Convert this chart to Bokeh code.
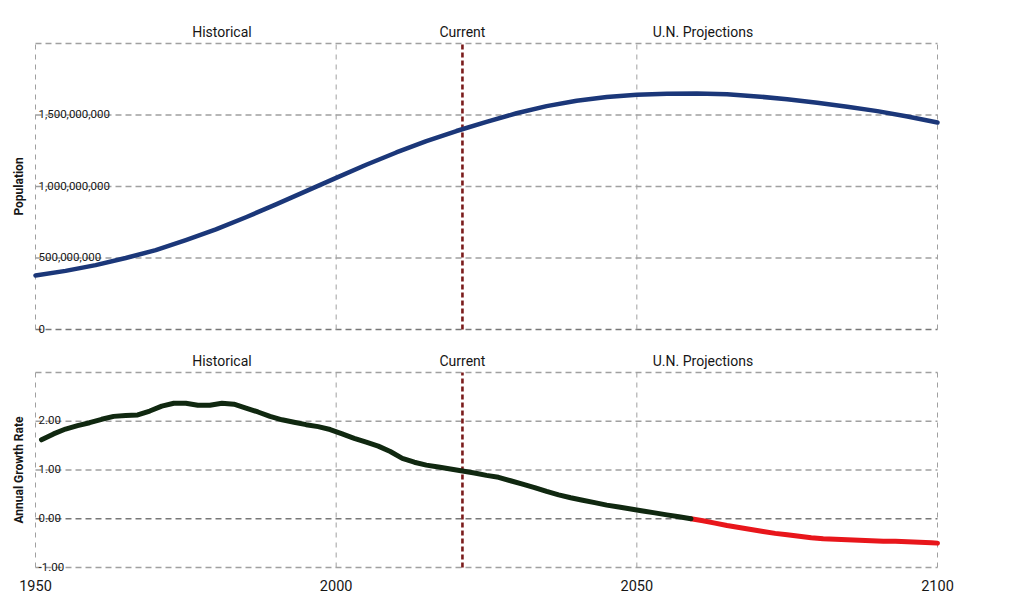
import math
from bokeh.plotting import figure
from bokeh.layouts import column
from bokeh.models import Range1d, FixedTicker
from bokeh.core.properties import value
from bokeh.embed import file_html
from bokeh.resources import INLINE

# ---------------- data ----------------
pop_years = [1950, 1955, 1960, 1965, 1970, 1975, 1980, 1985, 1990, 1995,
             2000, 2005, 2010, 2015, 2020, 2025, 2030, 2035, 2040, 2045,
             2050, 2055, 2060, 2065, 2070, 2075, 2080, 2085, 2090, 2095, 2100]
population = [378e6, 410e6, 450e6, 500e6, 555e6, 625e6, 700e6, 785e6, 875e6, 968e6,
              1060e6, 1152e6, 1238e6, 1318e6, 1388e6, 1452e6, 1512e6, 1562e6, 1600e6, 1626e6,
              1641e6, 1649e6, 1651e6, 1645e6, 1630e6, 1610e6, 1585e6, 1557e6, 1527e6, 1490e6, 1448e6]

rate_years = [1951, 1953, 1955, 1957, 1959, 1961, 1963, 1965, 1967, 1969,
              1971, 1973, 1975, 1977, 1979, 1981, 1983, 1985, 1987, 1989,
              1991, 1993, 1995, 1997, 1999, 2001, 2003, 2005, 2007, 2009,
              2011, 2013, 2015, 2017, 2019, 2021, 2023, 2025, 2027, 2029,
              2031, 2033, 2035, 2037, 2039, 2041, 2043, 2045, 2047, 2049,
              2051, 2053, 2055, 2057, 2059, 2061, 2063, 2065, 2067, 2069,
              2071, 2073, 2075, 2077, 2079, 2081, 2083, 2085, 2087, 2089,
              2091, 2093, 2095, 2097, 2099, 2100]
growth_rate = [1.62, 1.74, 1.84, 1.91, 1.97, 2.04, 2.10, 2.12, 2.13, 2.21,
               2.31, 2.37, 2.37, 2.33, 2.33, 2.37, 2.35, 2.27, 2.19, 2.10,
               2.03, 1.98, 1.93, 1.89, 1.83, 1.74, 1.65, 1.57, 1.49, 1.38,
               1.24, 1.16, 1.10, 1.06, 1.02, 0.98, 0.94, 0.89, 0.85, 0.78,
               0.71, 0.64, 0.56, 0.49, 0.43, 0.38, 0.33, 0.28, 0.24, 0.20,
               0.16, 0.12, 0.08, 0.04, 0.00, -0.04, -0.09, -0.14, -0.18, -0.22,
               -0.26, -0.30, -0.33, -0.36, -0.39, -0.41, -0.42, -0.43, -0.44, -0.45,
               -0.46, -0.46, -0.47, -0.48, -0.49, -0.50]

current_year = 2021
period_labels = ["Historical", "Current", "U.N. Projections"]
period_label_years = [1981, 2021, 2061]

x_ticks = [1950, 2000, 2050, 2100]
pop_ticks = [0, 500e6, 1000e6, 1500e6, 2000e6]
pop_tick_labels = ["0", "500,000,000", "1,000,000,000", "1,500,000,000", ""]
rate_ticks = [-1.0, 0.0, 1.0, 2.0, 3.0]
rate_tick_labels = ["-1.00", "0.00", "1.00", "2.00", ""]

# ---------------- layout helpers ----------------
FONT = value("Roboto")
TEXT = "#161616"
PX_PER_YEAR = 902 / 150.0
X0 = x_ticks[0] - 35 / PX_PER_YEAR
X1 = x_ticks[-1] + 79 / PX_PER_YEAR
GRID = "#a0a0a0"
GRID_BASE = "#777777"


def make_panel(frame_h, y_lo, y_hi, ticks, labels, px_per_unit, with_xaxis):
    p = figure(frame_width=1016, frame_height=frame_h,
               x_range=Range1d(X0, X1), y_range=Range1d(y_lo, y_hi),
               output_backend="svg", toolbar_location=None,
               x_axis_location="below" if with_xaxis else None,
               y_axis_location=None,
               min_border_left=0, min_border_right=0,
               min_border_top=0, min_border_bottom=0)
    p.outline_line_color = None
    p.grid.visible = False
    p.background_fill_color = "white"
    p.border_fill_color = "white"

    g_lo, g_hi = ticks[0], ticks[-1]
    h_cols = [GRID_BASE if t == 0 else GRID for t in ticks]
    p.segment(x0=[x_ticks[0]] * len(ticks), x1=[x_ticks[-1]] * len(ticks),
              y0=ticks, y1=ticks, line_color=h_cols, line_width=1.4, line_dash="6 4")
    p.segment(x0=x_ticks, x1=x_ticks, y0=[g_lo] * len(x_ticks), y1=[g_hi] * len(x_ticks),
              line_color=GRID, line_width=1, line_dash="5 5")
    p.segment(x0=[current_year], x1=[current_year], y0=[g_lo], y1=[g_hi],
              line_color="#7a1b1b", line_width=2.6, line_dash="5 3")

    p.text(x=[x_ticks[0]] * len(ticks), y=ticks, text=labels,
           x_offset=3, y_offset=-1, text_font=FONT, text_font_size="11.5px",
           text_color=TEXT, text_align="left", text_baseline="alphabetic")

    y_lab = g_hi + 12 / px_per_unit
    p.text(x=period_label_years, y=[y_lab] * 3, text=period_labels,
           text_font=FONT, text_font_size="14px", text_color=TEXT,
           text_align="center", text_baseline="middle")
    return p


# ---------------- top panel ----------------
PPB = 143.0 / 1e9
top = make_panel(340, -11 / PPB, pop_ticks[-1] + 43 / PPB, pop_ticks, pop_tick_labels, PPB, False)
top.text(x=[x_ticks[0] - 17 / PX_PER_YEAR], y=[pop_ticks[2]], text=["Population"],
         angle=math.pi / 2, text_font=FONT, text_font_size="12px", text_font_style="bold",
         text_color=TEXT, text_align="center", text_baseline="middle")
top.line(pop_years, population, line_color="#1b3779", line_width=4.5,
         line_cap="round", line_join="round")

# ---------------- bottom panel ----------------
PPU = 48.75
bot = make_panel(232, rate_ticks[0] - 5 / PPU, rate_ticks[-1] + 32 / PPU, rate_ticks,
                 rate_tick_labels, PPU, True)
bot.text(x=[x_ticks[0] - 17 / PX_PER_YEAR], y=[rate_ticks[2]], text=["Annual Growth Rate"],
         angle=math.pi / 2, text_font=FONT, text_font_size="12px", text_font_style="bold",
         text_color=TEXT, text_align="center", text_baseline="middle")

split = next(i for i, v in enumerate(growth_rate) if v <= 0)
bot.line(rate_years[split:], growth_rate[split:], line_color="#e8161b", line_width=5,
         line_cap="round", line_join="round")
bot.line(rate_years[:split + 1], growth_rate[:split + 1], line_color="#102810", line_width=5,
         line_cap="round", line_join="round")

ax = bot.xaxis[0]
ax.ticker = FixedTicker(ticks=x_ticks)
ax.axis_line_color = None
ax.major_tick_line_color = None
ax.minor_tick_line_color = None
ax.major_tick_out = 0
ax.major_label_standoff = 7
ax.major_label_text_font = "Roboto"
ax.major_label_text_font_size = "14.5px"
ax.major_label_text_color = TEXT

layout = column(top, bot, spacing=0)
open("out.html", "w").write(file_html(layout, INLINE))
